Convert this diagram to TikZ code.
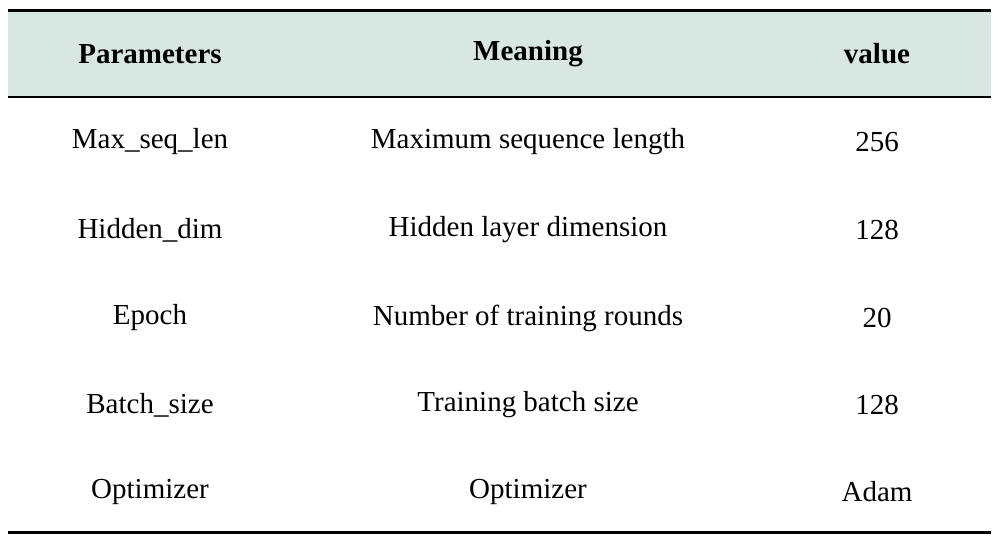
\documentclass[tikz,border=0pt]{standalone}
\usepackage{fontspec}
\setmainfont{Liberation Serif}
\definecolor{hdr}{HTML}{D9E7E3}
\begin{document}
\begin{tikzpicture}[x=1pt,y=-1pt,
  cell/.style={font=\fontsize{29}{34}\selectfont, anchor=center, inner sep=0pt},
  hcell/.style={cell, font=\fontsize{29}{34}\selectfont\bfseries}]
\useasboundingbox (0,0) rectangle (999,544);
\fill[hdr] (8,10) rectangle (991,97);
\draw[line width=3pt] (8,10) -- (991,10);
\draw[line width=2pt] (8,97) -- (991,97);
\draw[line width=3pt] (8,532) -- (991,532);
\node[hcell] (h1) at (150,54) {Parameters};
\node[hcell] (h2) at (528,54) {Meaning};
\node[hcell] (h3) at (877,54) {value};
\foreach \y/\a/\b/\c [count=\i] in {142/Max\_seq\_len/Maximum sequence length/256,
  230/Hidden\_dim/Hidden layer dimension/128,
  318/Epoch/Number of training rounds/20,
  405/Batch\_size/Training batch size/128,
  492/Optimizer/Optimizer/Adam}{
  \node[cell] (a\i) at (150,\y) {\a};
  \node[cell] (b\i) at (528,\y) {\b};
  \node[cell] (c\i) at (877,\y) {\c};
}
\end{tikzpicture}
\end{document}
